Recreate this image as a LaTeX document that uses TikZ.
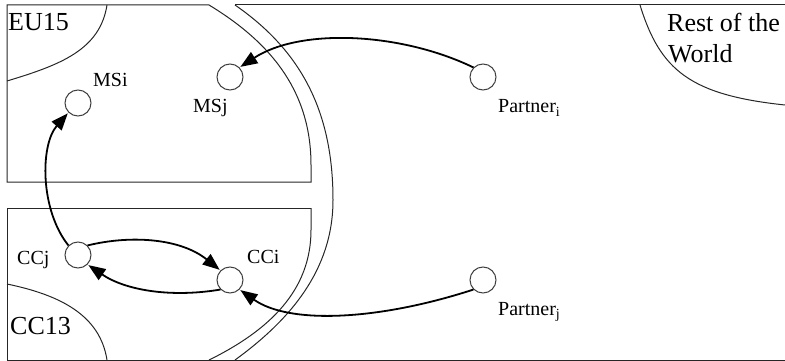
\documentclass[tikz,border=0pt]{standalone}
\usepackage{fontspec}
\setmainfont{Liberation Serif}
\usetikzlibrary{arrows.meta}
\tikzset{
  region/.style={draw=black!85, line width=1pt},
  country/.style={circle, draw=black!75, line width=1pt, minimum size=26pt, inner sep=0pt},
  lbl/.style={anchor=base west, inner sep=0pt, font=\fontsize{20}{22}\selectfont},
  biglbl/.style={anchor=base west, inner sep=0pt, font=\fontsize{26}{30}\selectfont},
  arr/.style={draw=black, line width=1.8pt, -{Triangle[length=17pt,width=13pt]}, shorten >=1pt}
}
\begin{document}
\begin{tikzpicture}[x=1pt,y=-1pt]
\useasboundingbox (0,0) rectangle (785,361);
% regions
\draw[region] (209,5) -- (7,5) -- (7,182) -- (311,182) -- (311,165)
  .. controls (311,95) and (275,45) .. (209,5);
\draw[region] (235,5) -- (785,5);
\draw[region] (235,5) .. controls (300,50) and (333,110) .. (333,200)
  .. controls (333,270) and (290,320) .. (235,360);
\draw[region] (311,208) -- (7,208) -- (7,360) -- (785,360);
\draw[region] (311,208) -- (311,230) .. controls (311,290) and (270,330) .. (209,360);
\draw[region] (107,5) .. controls (100,50) and (60,65) .. (7,81);
\draw[region] (7,284) .. controls (60,295) and (100,315) .. (107,360);
\draw[region] (640,5) .. controls (660,70) and (690,95) .. (785,105);
% region labels
\node[biglbl] (eu) at (8,31) {EU15};
\node[biglbl] (cc) at (10,334) {CC13};
\node[biglbl] (row1) at (667,32) {Rest of the};
\node[biglbl] (row2) at (668,63) {World};
% countries
\node[country] (msi) at (78,103) {};
\node[country] (msj) at (230,77) {};
\node[country] (pi) at (483,77) {};
\node[country] (ccj) at (78,255) {};
\node[country] (cci) at (230,280) {};
\node[country] (pj) at (483,280) {};
\node[lbl] (msil) at (93,87) {MSi};
\node[lbl] (msjl) at (193,113) {MSj};
\node[lbl] (pil) at (498,113) {Partner\textsubscript{i}};
\node[lbl] (ccjl) at (17,264) {CCj};
\node[lbl] (ccil) at (247,263) {CCi};
\node[lbl] (pjl) at (498,315) {Partner\textsubscript{j}};
% arrows
\draw[arr] (pi.north west) .. controls (400,32) and (300,28) .. (msj.north east);
\draw[arr] (ccj.north west) .. controls (40,210) and (40,145) .. (msi.south west);
\draw[arr] (ccj.north east) .. controls (130,235) and (180,238) .. (cci.north west);
\draw[arr] (cci.south west) .. controls (170,298) and (125,290) .. (ccj.south east);
\draw[arr] (pj.south west) .. controls (380,320) and (290,325) .. (cci.south east);
\end{tikzpicture}
\end{document}
